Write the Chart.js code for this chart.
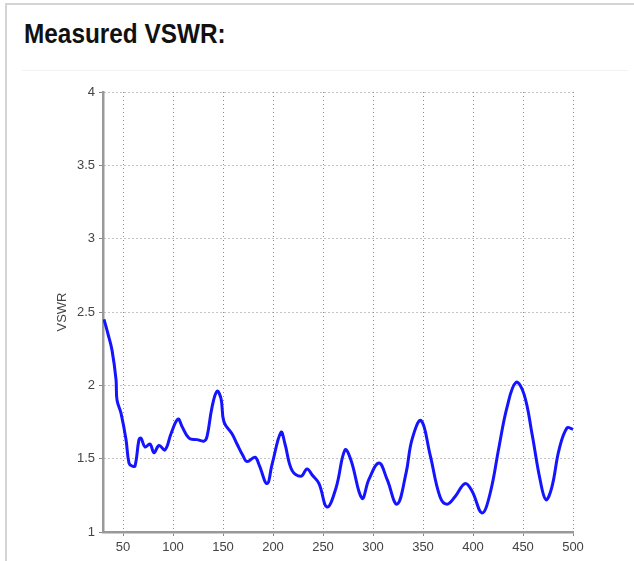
<!DOCTYPE html>
<html>
<head>
<meta charset="utf-8">
<script src="https://cdn.jsdelivr.net/npm/chart.js@4.4.0/dist/chart.umd.min.js"></script>
<style>
  html, body { margin: 0; padding: 0; background: #fff; }
  #wrap { position: relative; width: 634px; height: 561px; overflow: hidden; }
  #frame { position: absolute; left: 5px; top: 3px; width: 640px; height: 600px;
           border-left: 2px solid #d4d4d4; border-top: 2px solid #d4d4d4; }
  #sep { position: absolute; left: 22px; top: 70px; width: 606px; height: 1px; background: #f2f2f2; }
  #title { position: absolute; left: 24px; top: 20px; font-family: "Liberation Sans", Arial, sans-serif;
           font-weight: bold; font-size: 28px; line-height: 28px; color: #111; white-space: nowrap;
           transform: scaleX(0.87); transform-origin: 0 0; }
  canvas { position: absolute; left: 0; top: 0; }
</style>
</head>
<body>
<div id="wrap">
  <div id="frame"></div>
  <div id="sep"></div>
  <div id="title">Measured VSWR:</div>
  <canvas id="c" width="634" height="561"></canvas>
</div>
<script>
const freq = [31, 35, 39, 43, 44, 48, 53, 56, 59, 62, 66, 68, 72, 77, 81, 86, 92, 98, 105, 109, 116, 124, 131, 134, 139, 144, 148, 151, 159, 164, 170, 174, 182, 186, 194, 199, 208, 212, 219, 228, 234, 239, 246, 254, 263, 272, 278, 289, 296, 306, 314, 324, 333, 339, 348, 357, 367, 374, 382, 392, 399, 409, 417, 426, 434, 443, 451, 459, 467, 473, 479, 486, 494, 500];
const vswr = [2.45, 2.35, 2.24, 2.04, 1.90, 1.81, 1.63, 1.47, 1.45, 1.45, 1.63, 1.64, 1.58, 1.60, 1.54, 1.59, 1.56, 1.67, 1.77, 1.72, 1.64, 1.63, 1.62, 1.65, 1.85, 1.96, 1.91, 1.75, 1.67, 1.60, 1.52, 1.48, 1.51, 1.46, 1.33, 1.46, 1.68, 1.60, 1.42, 1.38, 1.43, 1.39, 1.33, 1.17, 1.30, 1.56, 1.49, 1.23, 1.36, 1.47, 1.36, 1.19, 1.40, 1.63, 1.76, 1.53, 1.24, 1.19, 1.24, 1.33, 1.28, 1.13, 1.26, 1.58, 1.85, 2.02, 1.94, 1.67, 1.36, 1.22, 1.31, 1.56, 1.71, 1.70];
const xTicks = [50, 100, 150, 200, 250, 300, 350, 400, 450, 500];
const yTicks = [1, 1.5, 2, 2.5, 3, 3.5, 4];
const yTitle = "VSWR";

const pts = freq.map((f, i) => ({ x: f, y: vswr[i] }));
const font = { family: "'Liberation Sans', Arial, sans-serif", size: 13 };

new Chart(document.getElementById('c'), {
  type: 'line',
  data: { datasets: [{ data: pts, borderColor: '#1414ff', borderWidth: 3, pointRadius: 0, tension: 0.4, fill: false }] },
  options: {
    responsive: false, animation: false, maintainAspectRatio: false,
    layout: { padding: { left: 0, top: 92, right: 61, bottom: 2 } },
    plugins: { legend: { display: false }, tooltip: { enabled: false } },
    scales: {
      x: {
        type: 'linear', min: 30, max: 500,
        afterBuildTicks: s => { s.ticks = xTicks.map(v => ({ value: v })); },
        afterFit: s => { s.height = 27; },
        ticks: { color: '#444', font, padding: 4, maxRotation: 0, autoSkip: false, callback: v => String(v) },
        grid: { color: '#8a8a8a', tickColor: '#888', tickLength: 4, lineWidth: 1 },
        border: { display: true, color: '#999', width: 2.5, dash: [1, 3] }
      },
      y: {
        type: 'linear', min: 1, max: 4,
        afterBuildTicks: s => { s.ticks = yTicks.map(v => ({ value: v })); },
        afterFit: s => { s.width = 103; },
        ticks: { color: '#444', font, padding: 4, autoSkip: false, callback: v => String(v) },
        grid: { color: '#8a8a8a', tickColor: '#888', tickLength: 4, lineWidth: 1 },
        border: { display: true, color: '#999', width: 2.5, dash: [1, 3] },
        title: { display: true, text: yTitle, color: '#444', font: { family: font.family, size: 13 }, padding: { top: 55, bottom: 0 } }
      }
    }
  }
});
</script>
</body>
</html>
